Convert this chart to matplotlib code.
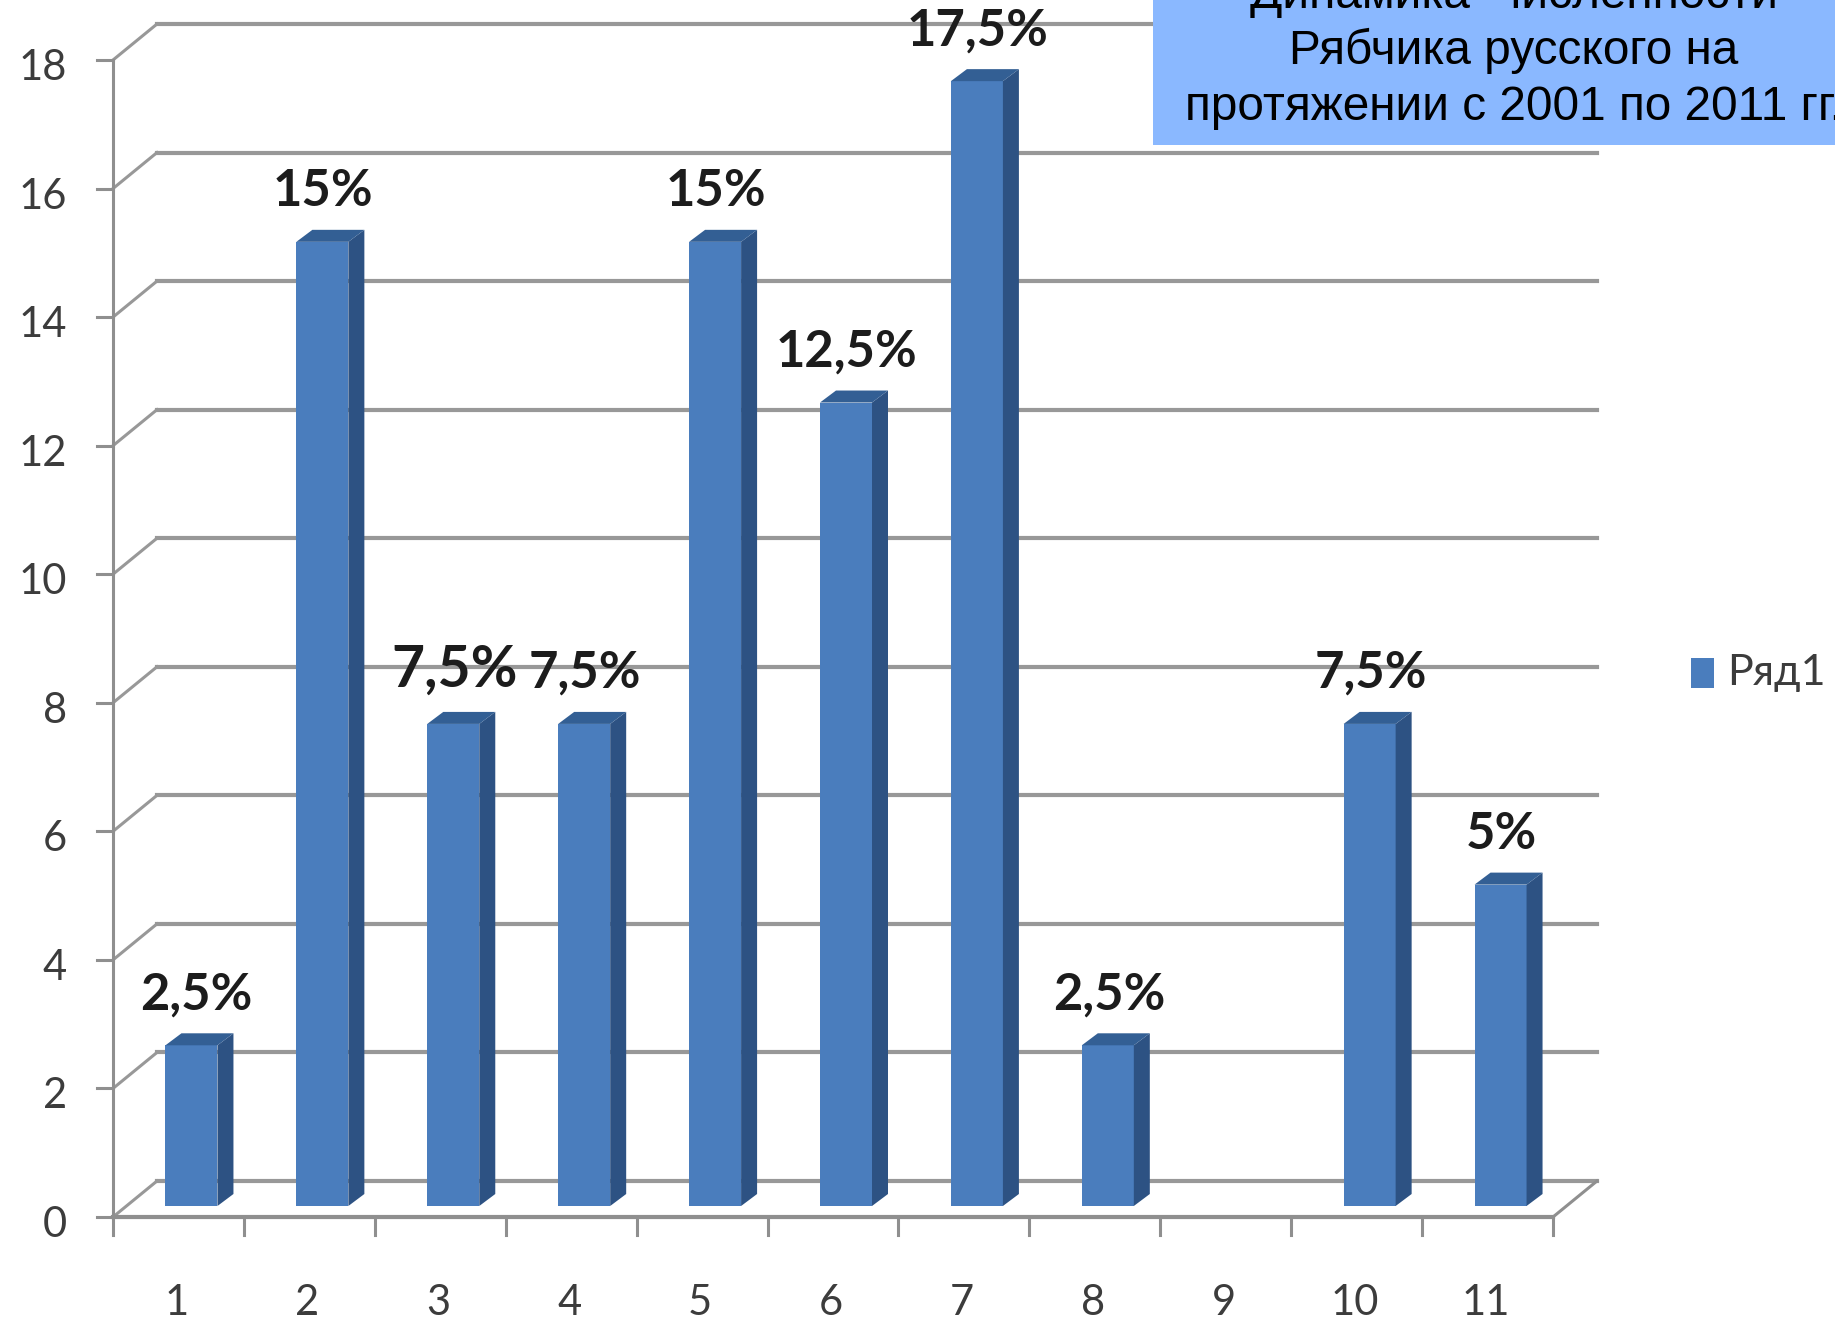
import matplotlib
matplotlib.use('Agg')
import matplotlib.pyplot as plt
from matplotlib.patches import Polygon, Rectangle
from matplotlib.transforms import Affine2D

categories = ['1', '2', '3', '4', '5', '6', '7', '8', '9', '10', '11']
values = [2.5, 15, 7.5, 7.5, 15, 12.5, 17.5, 2.5, 0, 7.5, 5]
labels = ['2,5%', '15%', '7,5%', '7,5%', '15%', '12,5%', '17,5%', '2,5%', '', '7,5%', '5%']
y_ticks = list(range(0, 20, 2))
title_lines = ['Динамика  численности', 'Рябчика русского на', 'протяжении с 2001 по 2011 гг.']

W, H = 1835, 1333
LEFT, RIGHT, BOTTOM, TOP = 113, 1553, 1217, 60  # axes box in pixels
DX, DY = 44, 36   # depth of the back wall in pixels

fig = plt.figure(figsize=(W / 100, H / 100), dpi=100)
ax = fig.add_axes([LEFT / W, 1 - BOTTOM / H, (RIGHT - LEFT) / W, (BOTTOM - TOP) / H])
ax.set_xlim(0.5, 11.5)
ax.set_ylim(0, 18)
ax.set_axis_off()

ux = (RIGHT - LEFT) / 11
uy = (BOTTOM - TOP) / 18
line = '#8f8f8f'
grid = '#989898'


def shifted(px, py):
    return ax.transData + Affine2D().translate(px, py)


back = shifted(DX, DY)
for v in y_ticks:
    ax.plot([0.5, 11.5], [v, v], color=grid, lw=3, transform=back, clip_on=False, zorder=1)
    ax.plot([0.5, 0.5 + DX / ux], [v, v + DY / uy], color=grid, lw=2.2, clip_on=False, zorder=1)
    ax.plot([0.5 - 16 / ux, 0.5], [v, v], color=line, lw=2.2, clip_on=False, zorder=1)

ax.plot([0.5, 0.5], [0, 18], color=line, lw=2.2, clip_on=False, zorder=1)
ax.plot([0.5, 11.5], [0, 0], color=line, lw=3, clip_on=False, zorder=1)
ax.plot([11.5, 11.5 + DX / ux], [0, DY / uy], color=line, lw=2.2, clip_on=False, zorder=1)
for i in range(12):
    ax.plot([0.5 + i, 0.5 + i], [0, -18 / uy], color=line, lw=2.2, clip_on=False, zorder=1)

# bars sit in the middle of the floor depth
bar_w = 52 / ux
side_x, side_y = 16 / ux, 12 / uy
bar_tr = shifted(13, 11)
for i, (x, v, lab) in enumerate(zip(range(1, 12), values, labels)):
    if v == 0:
        continue
    ax.bar(x, v, width=bar_w, color='#4a7dbd', transform=bar_tr, zorder=3)
    l, r = x - bar_w / 2, x + bar_w / 2
    ax.add_patch(Polygon([(r, 0), (r + side_x, side_y), (r + side_x, v + side_y), (r, v)],
                         fc='#2d5283', transform=bar_tr, zorder=3))
    ax.add_patch(Polygon([(l, v), (l + side_x, v + side_y), (r + side_x, v + side_y), (r, v)],
                         fc='#335f94', transform=bar_tr, zorder=3))
    # the third label is drawn bigger in the original, the first sits a bit to the right
    ax.annotate(lab, (x, v), xytext=(18 if i == 0 else 14, 38), textcoords='offset pixels',
                ha='center', va='bottom', fontsize=41 if i == 2 else 36.5, fontweight='bold',
                family='Lato', color='#1c1c1c', zorder=4, annotation_clip=False)

for v in y_ticks:
    ax.annotate(str(v), (0.5, v), xytext=(-46, -8), textcoords='offset pixels', ha='right', va='center',
                fontsize=30, family='Lato', color='#3c3c3c', annotation_clip=False)
for x, c in zip(range(1, 12), categories):
    ax.annotate(c, (x, 0), xytext=(-2, -86), textcoords='offset pixels', ha='center', va='center',
                fontsize=30, family='Lato', color='#3c3c3c', annotation_clip=False)

# legend
fig.patches.append(Rectangle((1691 / W, 1 - 688 / H), 23 / W, 30 / H, transform=fig.transFigure, fc='#4a7dbd'))
fig.text(1727 / W, 1 - 673 / H, 'Ряд1', fontsize=31, family='Lato', color='#3c3c3c', va='center')

# title box, cut off by the picture edge
fig.patches.append(Rectangle((1153 / W, 1 - 145 / H), (W - 1153) / W, 145 / H, transform=fig.transFigure,
                             fc='#8ab8ff', zorder=5))
for line_text, py in zip(title_lines, [-5, 51, 108]):
    fig.text(1514 / W, 1 - py / H, line_text, fontsize=34.4, family='Liberation Sans', color='#000000',
             ha='center', va='center', zorder=6)

fig.savefig('out.png', dpi=100)
